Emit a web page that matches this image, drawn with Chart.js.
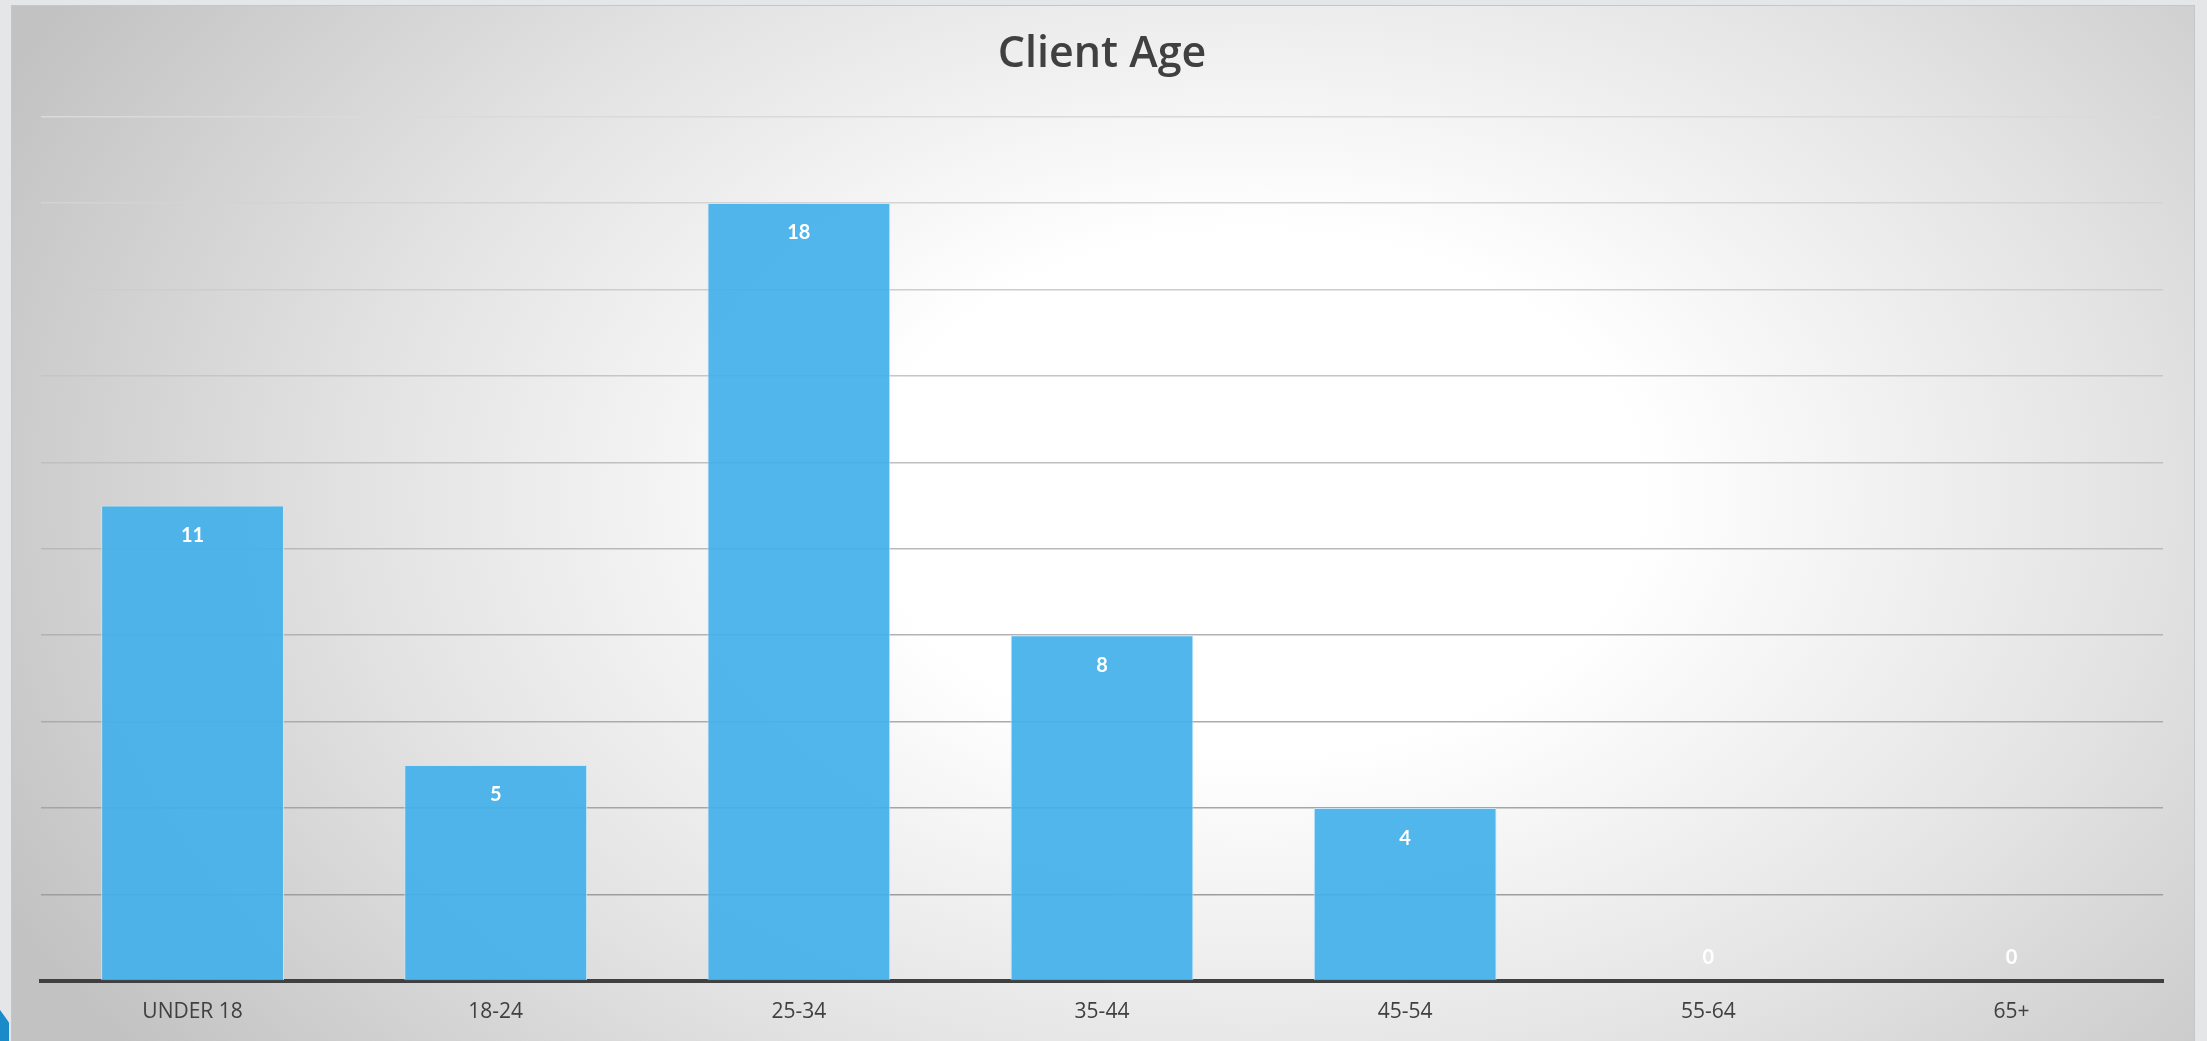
<!DOCTYPE html>
<html>
<head>
<meta charset="utf-8">
<script src="https://cdn.jsdelivr.net/npm/chart.js@4.4.1/dist/chart.umd.min.js"></script>
<style>
    html, body { margin: 0; padding: 0; width: 2207px; height: 1041px; overflow: hidden; background: #e4e6e7; }
    #frame {
        position: absolute; left: 11px; top: 5px; width: 2182px; height: 1060px;
        border: 1px solid #c6c6c6;
        background: radial-gradient(ellipse 68% 95% at 57% 46%, #ffffff 0%, #ffffff 26%, #e3e3e3 60%, #c2c2c2 94%);
    }
    #corner {
        position: absolute; left: 0; top: 1010px; width: 9px; height: 31px;
        background: #1a8ac8;
        clip-path: polygon(0 0, 100% 40%, 100% 100%, 0 100%);
    }
    #wrap { position: absolute; left: 0; top: 0; width: 2207px; height: 1041px; }
</style>
</head>
<body>
<div id="frame"></div>
<div id="corner"></div>
<div id="wrap"><canvas id="ageChart"></canvas></div>
<script>
document.addEventListener("DOMContentLoaded", function () {
    var ageGroups = ['UNDER 18', '18-24', '25-34', '35-44', '45-54', '55-64', '65+'];
    var clientCounts = [11, 5, 18, 8, 4, 0, 0];
    var yMax = 20;
    var yStep = 2;

    // white value labels just inside the top of each bar
    var valueLabels = {
        id: 'valueLabels',
        afterDatasetsDraw: function (chart) {
            var ctx = chart.ctx;
            var meta = chart.getDatasetMeta(0);
            ctx.save();
            ctx.fillStyle = '#ffffff';
            ctx.font = 'bold 20px Lato';
            ctx.textAlign = 'center';
            ctx.textBaseline = 'middle';
            meta.data.forEach(function (bar, i) {
                var v = clientCounts[i];
                var y = v > 0 ? bar.y + 30 : bar.y - 23;
                ctx.fillText(String(v), bar.x, y);
            });
            ctx.restore();
        }
    };

    var ctx = document.getElementById('ageChart').getContext('2d');
    new Chart(ctx, {
        type: 'bar',
        data: {
            labels: ageGroups,
            datasets: [{
                label: 'Client Age',
                data: clientCounts,
                backgroundColor: 'rgba(66, 176, 234, 0.92)',
                borderColor: 'rgba(200, 232, 250, 0.9)',
                borderWidth: { left: 1, right: 1, top: 1, bottom: 0 },
                borderSkipped: 'bottom',
                categoryPercentage: 1,
                barPercentage: 0.603
            }]
        },
        options: {
            responsive: true,
            maintainAspectRatio: false,
            animation: false,
            layout: { padding: { left: 41, right: 44, top: 0, bottom: 0 } },
            plugins: {
                legend: { display: false },
                tooltip: { enabled: false },
                title: {
                    display: true,
                    text: 'Client Age',
                    color: '#404040',
                    font: { family: 'Open Sans', size: 43, weight: '600' },
                    padding: { top: 29, bottom: 36 }
                }
            },
            scales: {
                x: {
                    grid: { display: false, drawTicks: false },
                    border: { display: true, color: '#404040', width: 4 },
                    ticks: {
                        color: '#404040',
                        font: { family: 'Open Sans', size: 21 },
                        padding: 18,
                        maxRotation: 0
                    },
                    afterFit: function (scale) { scale.height = 60; }
                },
                y: {
                    min: 0,
                    max: yMax,
                    ticks: { display: false, stepSize: yStep },
                    border: { display: false },
                    grid: {
                        drawTicks: false,
                        lineWidth: 1.5,
                        color: function (c) {
                            var v = c.tick ? c.tick.value : 0;
                            if (v === 0) return 'rgba(0,0,0,0)';
                            var t = (v - yStep) / (yMax - yStep);
                            var g = Math.round(158 + t * (218 - 158));
                            return 'rgb(' + g + ',' + g + ',' + g + ')';
                        }
                    },
                    afterFit: function (scale) { scale.width = 0; }
                }
            }
        },
        plugins: [valueLabels]
    });
});
</script>
</body>
</html>
